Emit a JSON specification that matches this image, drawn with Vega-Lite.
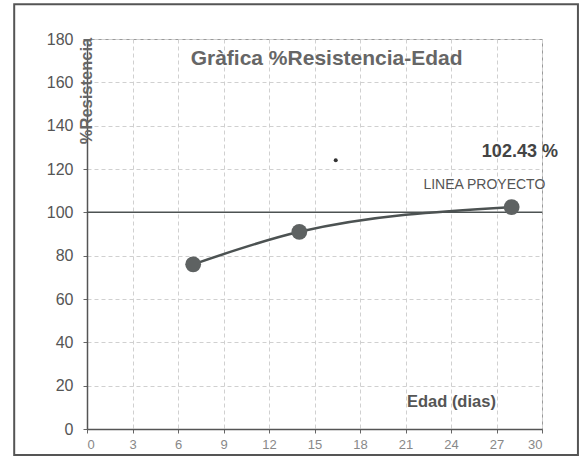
{
  "$schema": "https://vega.github.io/schema/vega-lite/v6.json",
  "width": 455,
  "height": 390,
  "autosize": {"type": "none"},
  "padding": {"left": 87, "top": 39, "right": 38, "bottom": 28},
  "background": "white",
  "config": {
    "font": "Liberation Sans",
    "view": {"stroke": "#9a9a9a", "strokeWidth": 1}
  },
  "datasets": {
    "pts": [
      {"edad": 7, "resistencia": 76},
      {"edad": 14, "resistencia": 91},
      {"edad": 28, "resistencia": 102.43}
    ],
    "one": [{"k": 1}]
  },
  "layer": [
    {
      "data": {"name": "one"},
      "mark": {"type": "rect", "fill": null, "stroke": "#555", "strokeWidth": 2, "clip": false},
      "encoding": {
        "x": {"datum": -4.8, "type": "quantitative", "scale": {"domain": [0, 30]}},
        "x2": {"datum": 32.37},
        "y": {"datum": 196, "type": "quantitative", "scale": {"domain": [0, 180]}},
        "y2": {"datum": -12}
      }
    },
    {
      "data": {"name": "pts"},
      "mark": {"type": "line", "interpolate": "monotone", "color": "#4c5252", "strokeWidth": 2.5},
      "encoding": {
        "x": {
          "field": "edad", "type": "quantitative",
          "scale": {"domain": [0, 30], "nice": false},
          "axis": {
            "values": [0, 3, 6, 9, 12, 15, 18, 21, 24, 27, 30],
            "title": null, "grid": true, "gridDash": [4, 3], "gridColor": "#d0d0d0",
            "domainColor": "#555", "domainWidth": 1.5, "tickColor": "#666", "tickSize": 4,
            "labelColor": "#888", "labelFontSize": 13, "labelPadding": 5
          }
        },
        "y": {
          "field": "resistencia", "type": "quantitative",
          "scale": {"domain": [0, 180], "nice": false},
          "axis": {
            "values": [0, 20, 40, 60, 80, 100, 120, 140, 160, 180],
            "title": null, "grid": true, "gridDash": [4, 3], "gridColor": "#d0d0d0",
            "domainColor": "#555", "domainWidth": 1.5, "tickColor": "#666", "tickSize": 4,
            "labelColor": "#555", "labelFontSize": 16, "labelPadding": 10
          }
        }
      }
    },
    {
      "data": {"name": "one"},
      "mark": {"type": "rule", "color": "#4c5252", "strokeWidth": 1.5},
      "encoding": {"y": {"datum": 100, "type": "quantitative"}}
    },
    {
      "data": {"name": "pts"},
      "mark": {"type": "point", "filled": true, "color": "#5e6262", "opacity": 1, "size": 250},
      "encoding": {
        "x": {"field": "edad", "type": "quantitative"},
        "y": {"field": "resistencia", "type": "quantitative"}
      }
    },
    {
      "data": {"name": "one"},
      "mark": {"type": "point", "filled": true, "color": "#333", "opacity": 1, "size": 16},
      "encoding": {
        "x": {"datum": 16.4, "type": "quantitative"},
        "y": {"datum": 124, "type": "quantitative"}
      }
    },
    {
      "data": {"name": "one"},
      "mark": {"type": "text", "text": "Gràfica %Resistencia-Edad", "fontSize": 21, "fontWeight": "bold", "color": "#666", "align": "center", "baseline": "middle"},
      "encoding": {"x": {"datum": 15.8, "type": "quantitative"}, "y": {"datum": 171, "type": "quantitative"}}
    },
    {
      "data": {"name": "one"},
      "mark": {"type": "text", "text": "%Resistencia", "fontSize": 16.5, "fontWeight": "bold", "color": "#666", "align": "center", "baseline": "middle", "angle": 270},
      "encoding": {"x": {"datum": 0, "type": "quantitative"}, "y": {"datum": 156, "type": "quantitative"}}
    },
    {
      "data": {"name": "one"},
      "mark": {"type": "text", "text": "102.43 %", "fontSize": 18, "fontWeight": "bold", "color": "#444", "align": "right", "baseline": "middle", "clip": false},
      "encoding": {"x": {"datum": 31.05, "type": "quantitative"}, "y": {"datum": 127.8, "type": "quantitative"}}
    },
    {
      "data": {"name": "one"},
      "mark": {"type": "text", "text": "LINEA PROYECTO", "fontSize": 14, "color": "#555", "align": "center", "baseline": "middle"},
      "encoding": {"x": {"datum": 26.2, "type": "quantitative"}, "y": {"datum": 112.6, "type": "quantitative"}}
    },
    {
      "data": {"name": "one"},
      "mark": {"type": "text", "text": "Edad (dias)", "fontSize": 16.5, "fontWeight": "bold", "color": "#555", "align": "right", "baseline": "middle"},
      "encoding": {"x": {"datum": 26.96, "type": "quantitative"}, "y": {"datum": 12.5, "type": "quantitative"}}
    }
  ]
}
